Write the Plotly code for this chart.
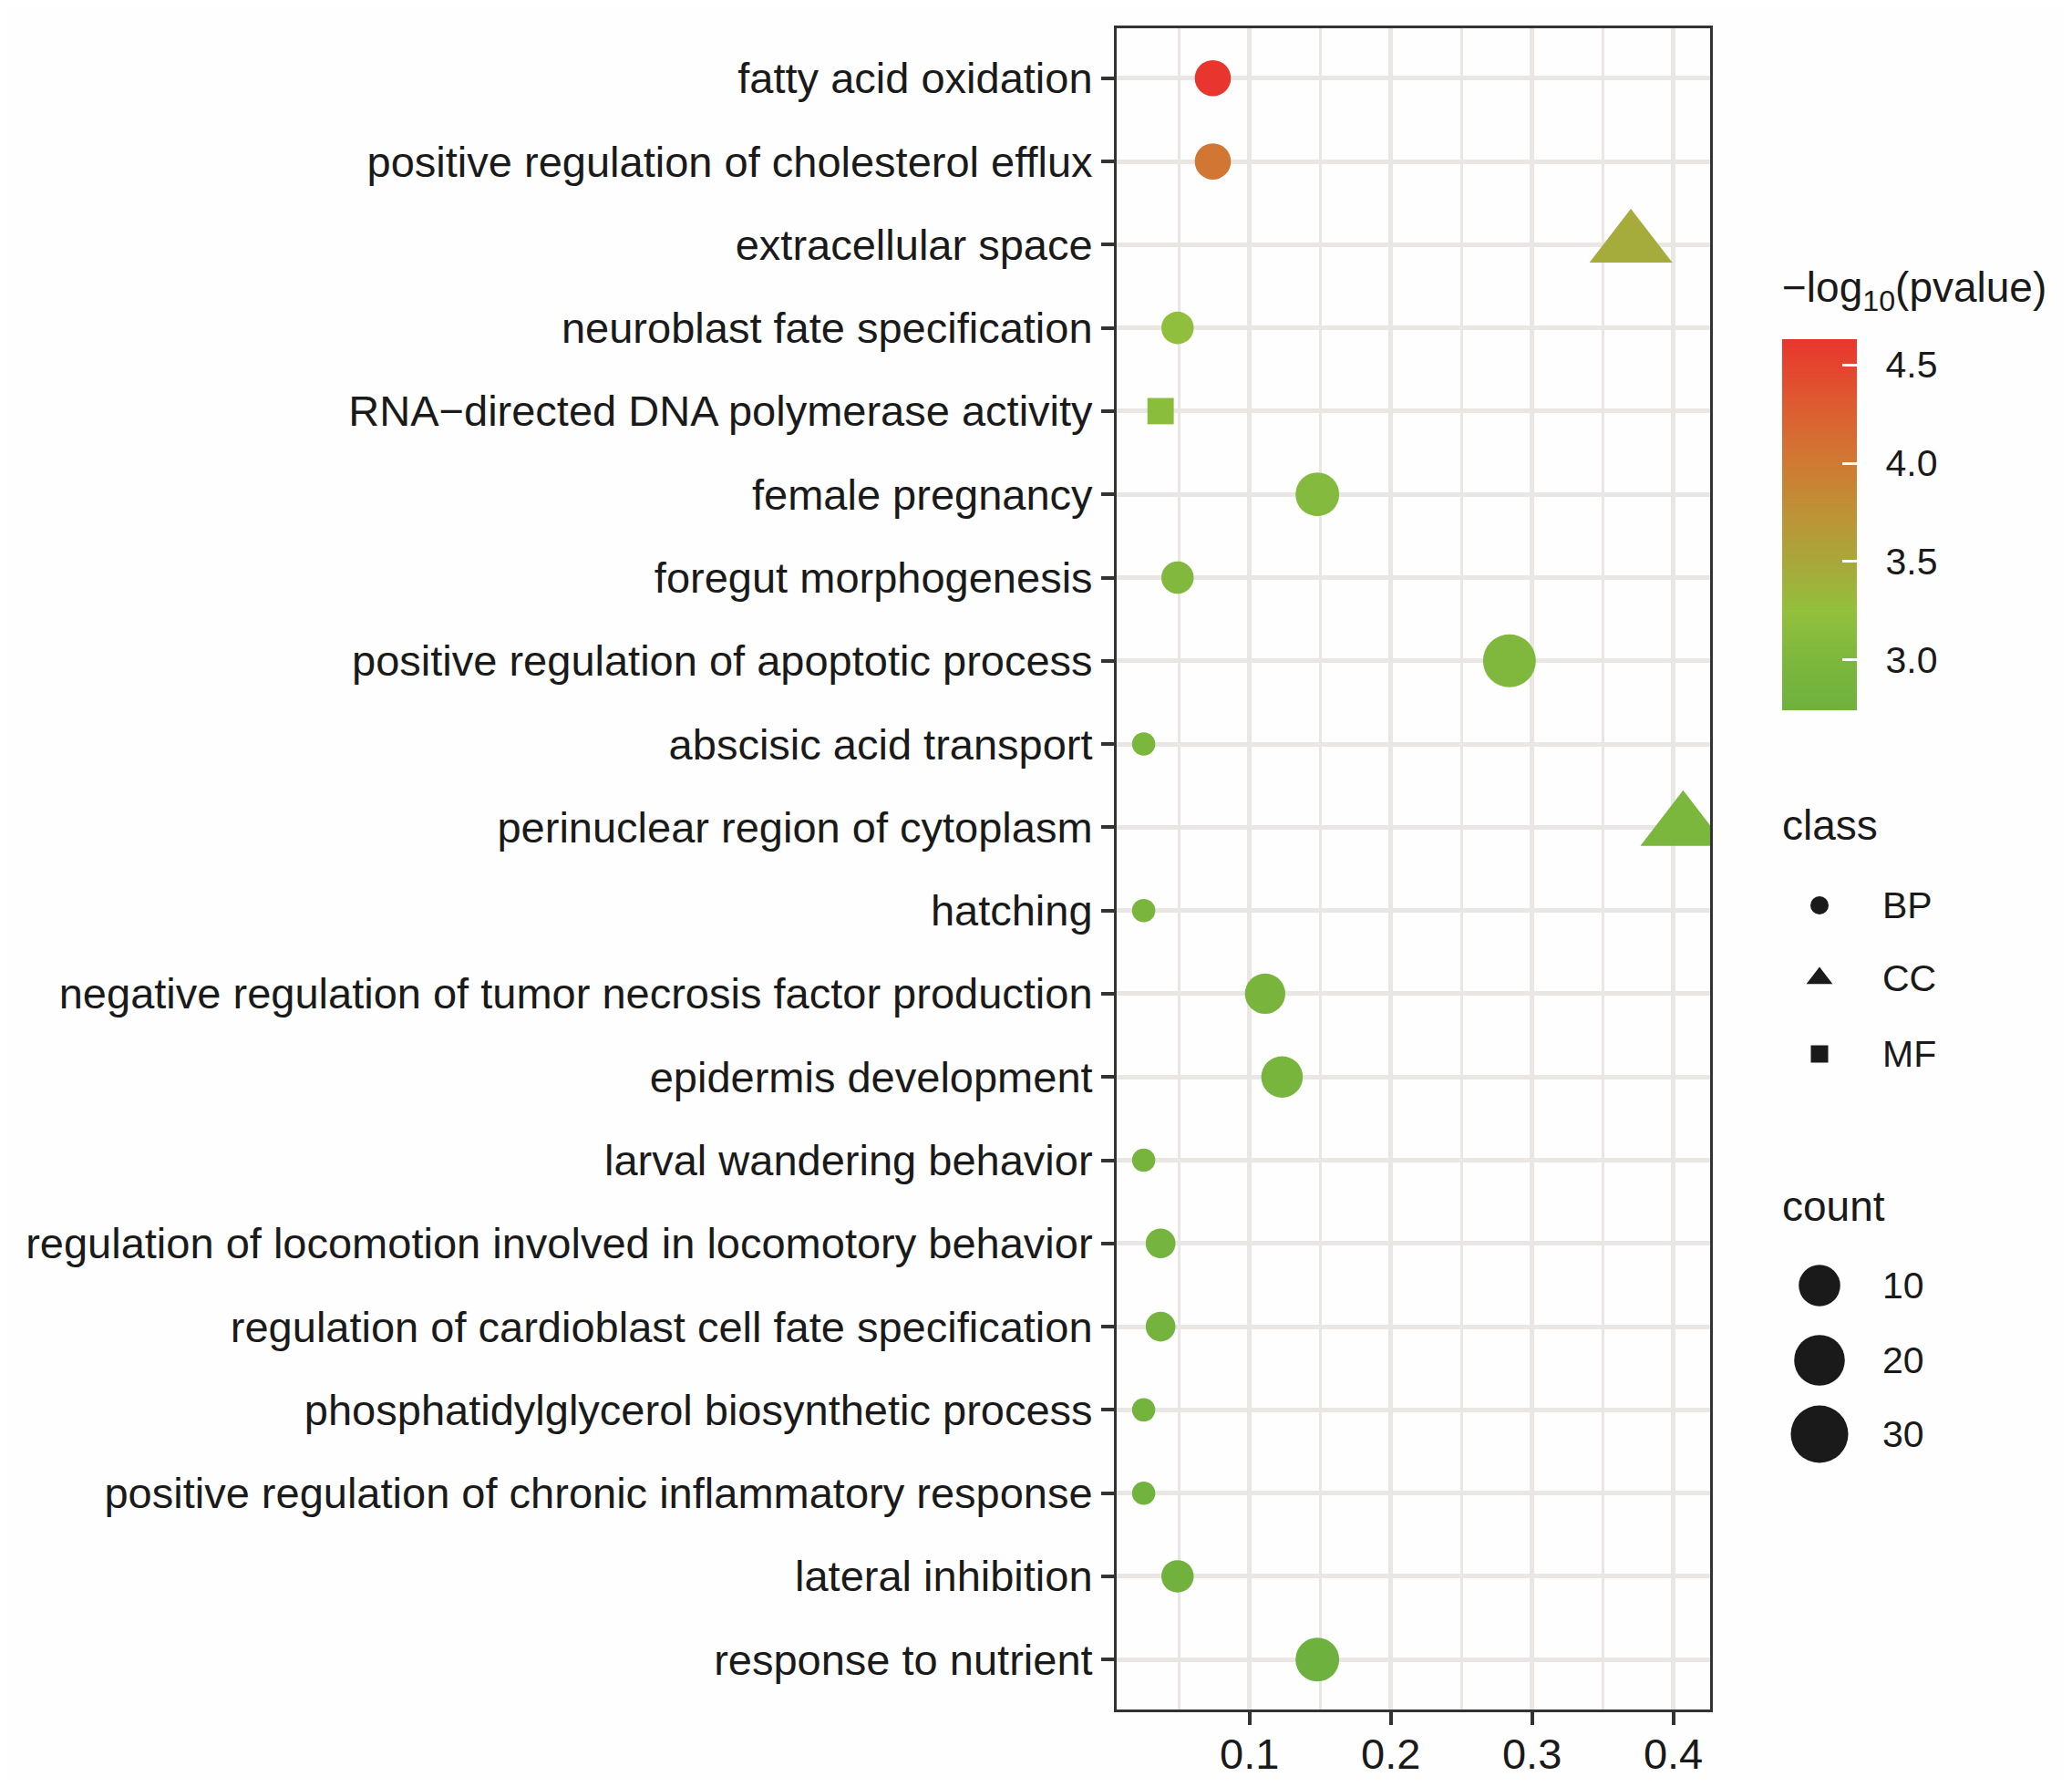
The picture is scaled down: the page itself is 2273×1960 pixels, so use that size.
import numpy as np
import plotly.graph_objects as go

# the page is 2273x1960, the browser body adds an 8px margin around the plot
W, H = 2273, 1960
OFF = 8
FW, FH = W - 2 * OFF, H - 2 * OFF

# GO terms, top to bottom as they appear on the chart
terms = [
    "fatty acid oxidation",
    "positive regulation of cholesterol efflux",
    "extracellular space",
    "neuroblast fate specification",
    "RNA\u2212directed DNA polymerase activity",
    "female pregnancy",
    "foregut morphogenesis",
    "positive regulation of apoptotic process",
    "abscisic acid transport",
    "perinuclear region of cytoplasm",
    "hatching",
    "negative regulation of tumor necrosis factor production",
    "epidermis development",
    "larval wandering behavior",
    "regulation of locomotion involved in locomotory behavior",
    "regulation of cardioblast cell fate specification",
    "phosphatidylglycerol biosynthetic process",
    "positive regulation of chronic inflammatory response",
    "lateral inhibition",
    "response to nutrient",
]
gene_ratio = [0.074, 0.074, 0.370, 0.049, 0.037, 0.148, 0.049, 0.284, 0.025, 0.407,
              0.025, 0.111, 0.123, 0.025, 0.037, 0.037, 0.025, 0.025, 0.049, 0.148]
counts = [6, 6, 30, 4, 3, 12, 4, 23, 2, 33, 2, 9, 10, 2, 3, 3, 2, 2, 4, 12]
classes = ["BP", "BP", "CC", "BP", "MF", "BP", "BP", "BP", "BP", "CC",
           "BP", "BP", "BP", "BP", "BP", "BP", "BP", "BP", "BP", "BP"]
neglog_p = [4.63, 4.03, 3.45, 3.22, 3.16, 3.08, 3.04, 3.02, 2.98, 2.96,
            2.94, 2.92, 2.90, 2.88, 2.86, 2.84, 2.82, 2.80, 2.78, 2.745]

class_levels = ["BP", "CC", "MF"]
count_breaks = [10, 20, 30]
cbar_ticks = [3.0, 3.5, 4.0, 4.5]

FONT = "Liberation Sans, Arial, Helvetica, sans-serif"
INK = "#1a1a1a"
GRID = "#e9e6e4"
BORDER = "#333333"

colorscale = [
    [0.0, "#6fb13e"], [0.135, "#7db73d"], [0.268, "#93c03d"],
    [0.40, "#a9a73a"], [0.533, "#be9236"], [0.666, "#d07933"],
    [0.80, "#dc6031"], [0.93, "#e5442f"], [1.0, "#e8362e"],
]

# plotly symbol + factor so the shape has about the same visual size as R's pch
SYMBOLS = {"BP": ("circle", 1.0), "CC": ("triangle-up", 1.25), "MF": ("square", 0.886)}

c_lo, c_hi = min(counts), max(counts)
p_lo, p_hi = min(neglog_p), max(neglog_p)


def diam(c):
    # area-style size scale, like ggplot's scale_size
    c = np.asarray(c, dtype=float)
    return 25.5 + 39.5 * np.sqrt((c - c_lo) / (c_hi - c_lo))


# panel and colourbar position in page pixels
PX0, PX1 = 1225, 1876
PY0, PY1 = 31, 1875
CB_X0, CB_X1 = 1955, 2037
CB_TOP, CB_LEN = 372, 407

fig = go.Figure()

for cls in class_levels:
    idx = [i for i, k in enumerate(classes) if k == cls]
    sym, f = SYMBOLS[cls]
    fig.add_trace(go.Scatter(
        x=[gene_ratio[i] for i in idx],
        y=[terms[i] for i in idx],
        mode="markers",
        marker=dict(
            symbol=sym,
            size=diam([counts[i] for i in idx]) * f,
            color=[neglog_p[i] for i in idx],
            coloraxis="coloraxis",
            line=dict(width=0),
            opacity=1,
        ),
        showlegend=False,
        hoverinfo="skip",
    ))

# legend keys drawn on an overlay axis measured in page pixels
LX = 1996
class_y = [993, 1073, 1156]
count_y = [1410, 1492, 1573]
fig.add_trace(go.Scatter(
    x=[LX] * 3, y=class_y, xaxis="x2", yaxis="y2", mode="markers",
    marker=dict(symbol=["circle", "triangle-up", "square"], size=[20, 25, 19],
                color=INK, opacity=1, line=dict(width=0)),
    showlegend=False, hoverinfo="skip", cliponaxis=False,
))
fig.add_trace(go.Scatter(
    x=[LX] * 3, y=count_y, xaxis="x2", yaxis="y2", mode="markers",
    marker=dict(symbol="circle", size=diam(count_breaks), color=INK,
                opacity=1, line=dict(width=0)),
    showlegend=False, hoverinfo="skip", cliponaxis=False,
))

annos = [
    dict(text="\u2212log<sub>10</sub>(pvalue)", x=1953, y=318, size=46),
    dict(text="class", x=1953, y=905, size=46),
    dict(text="count", x=1953, y=1323, size=46),
]
for cls, yy in zip(class_levels, class_y):
    annos.append(dict(text=cls, x=2063, y=yy, size=41))
for cb, yy in zip(count_breaks, count_y):
    annos.append(dict(text=str(cb), x=2063, y=yy, size=41))

lo, hi = min(gene_ratio), max(gene_ratio)
pad = 0.05 * (hi - lo)

fig.update_layout(
    width=FW, height=FH,
    margin=dict(l=0, r=0, t=0, b=0),
    paper_bgcolor="#fefefe",
    plot_bgcolor="#fefefe",
    font=dict(family=FONT, color=INK),
    showlegend=False,
    xaxis=dict(
        domain=[(PX0 - OFF) / FW, (PX1 - OFF) / FW],
        range=[lo - pad, hi + pad],
        tickvals=[0.1, 0.2, 0.3, 0.4],
        ticktext=["0.1", "0.2", "0.3", "0.4"],
        tickfont=dict(size=47, color=INK, family=FONT),
        ticks="outside", ticklen=14, tickwidth=4, tickcolor=BORDER,
        ticklabelstandoff=-8,
        showgrid=True, gridcolor=GRID, gridwidth=4.5,
        minor=dict(tickvals=[0.05, 0.15, 0.25, 0.35], showgrid=True,
                   gridcolor=GRID, gridwidth=2.5, ticks=""),
        showline=True, mirror=True, linecolor=BORDER, linewidth=3,
        zeroline=False, automargin=False,
    ),
    yaxis=dict(
        domain=[1 - (PY1 - OFF) / FH, 1 - (PY0 - OFF) / FH],
        type="category",
        categoryorder="array",
        categoryarray=terms[::-1],
        range=[-0.6, len(terms) - 0.4],
        tickfont=dict(size=47, color=INK, family=FONT),
        ticks="outside", ticklen=14, tickwidth=4, tickcolor=BORDER,
        showgrid=True, gridcolor=GRID, gridwidth=4.5,
        showline=True, mirror=True, linecolor=BORDER, linewidth=3,
        zeroline=False, automargin=False,
    ),
    xaxis2=dict(domain=[(1900 - OFF) / FW, 1], range=[1900, OFF + FW], visible=False,
                anchor="y2", fixedrange=True),
    yaxis2=dict(domain=[0, 1], range=[OFF + FH, OFF], visible=False,
                anchor="x2", fixedrange=True),
    coloraxis=dict(
        colorscale=colorscale,
        cmin=p_lo, cmax=p_hi,
        colorbar=dict(
            x=(CB_X0 - OFF) / FW, xanchor="left", xpad=0,
            y=1 - (CB_TOP - OFF) / FH, yanchor="top", ypad=0,
            len=CB_LEN, lenmode="pixels",
            thickness=CB_X1 - CB_X0, thicknessmode="pixels",
            outlinewidth=0,
            tickvals=cbar_ticks,
            # non-breaking spaces push the labels away from the bar
            ticktext=["\u00a0\u00a0" + f"{v:.1f}" for v in cbar_ticks],
            ticks="inside", ticklen=16, tickwidth=2.5, tickcolor="white",
            tickfont=dict(size=41, color=INK, family=FONT),
        ),
    ),
    annotations=[
        dict(text=a["text"], x=a["x"], y=a["y"], xref="x2", yref="y2",
             xanchor="left", yanchor="middle", showarrow=False,
             font=dict(size=a["size"], color=INK, family=FONT))
        for a in annos
    ],
)

fig.write_html("out.html")
